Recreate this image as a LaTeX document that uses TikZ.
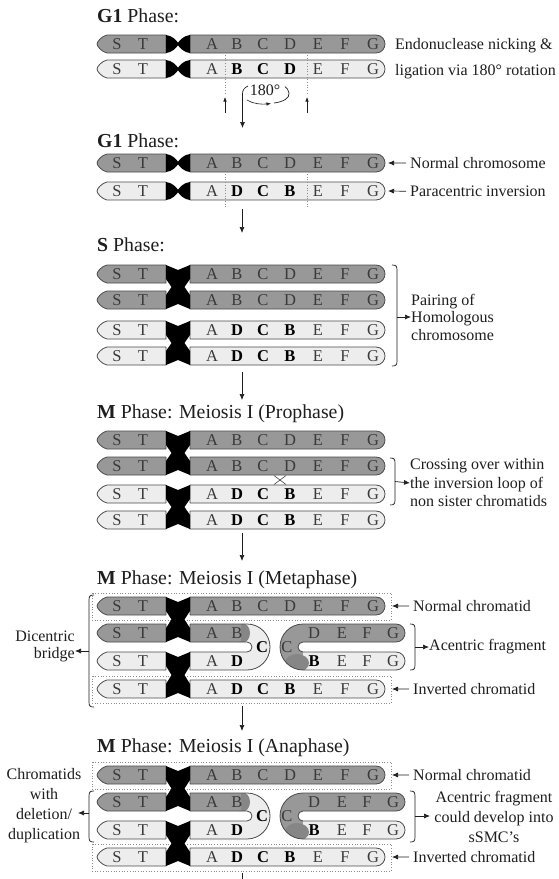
\documentclass[tikz,border=0pt]{standalone}
\usepackage{fontspec}
\setmainfont{Liberation Serif}
\usetikzlibrary{arrows.meta}

\definecolor{chrdark}{HTML}{989898}
\definecolor{chrlight}{HTML}{EDEDED}
\definecolor{chrline}{HTML}{4A4A4A}
\definecolor{genegray}{HTML}{3A3A3A}
\definecolor{blobgray}{HTML}{868686}
\definecolor{inkk}{HTML}{1E1E1E}

\tikzset{
  arm/.style={draw=chrline, line width=0.8pt, line join=round},
  darkarm/.style={arm, fill=chrdark},
  lightarm/.style={arm, fill=chrlight},
  gene/.style={font=\fontsize{16.5}{18}\selectfont, text=genegray, inner sep=0pt, anchor=base},
  title/.style={font=\fontsize{19.8}{22}\selectfont, text=inkk, inner sep=0pt, anchor=base west},
  lbl/.style={font=\fontsize{16}{18}\selectfont, text=inkk, inner sep=0pt},
  arr/.style={draw=inkk, line width=0.7pt, -{Latex[length=6pt,width=5pt]}},
  smallarr/.style={draw=inkk, line width=0.6pt, -{Latex[length=4.5pt,width=3.5pt]}},
  guide/.style={draw=black!45, line width=0.7pt, dotted},
  dotbox/.style={draw=black!45, line width=0.7pt, dotted},
  brk/.style={draw=inkk, line width=0.7pt},
  xover/.style={draw=chrline, line width=0.6pt},
}

% gene letters
\newcommand{\boldgene}[1]{\textbf{\color{black}#1}}
\newcommand{\genes}[2]{\foreach \gx/\gl in {#2}{\node[gene] (g#1x\gx) at (\gx,#1+5.8) {\gl};}}
\newcommand{\nrow}[1]{\genes{#1}{117/S,143/T,212/A,237/B,263/C,290/D,318/E,345/F,373/G}}
\newcommand{\irow}[1]{\genes{#1}{117/S,143/T,212/A,237/\boldgene{D},263/\boldgene{C},290/\boldgene{B},318/E,345/F,373/G}}

% chromosome arms
\newcommand{\leftarm}[2]{\path[#2] (166,#1-9) -- (107,#1-9) .. controls (102,#1-8) and (97,#1-2.5) .. (97,#1) .. controls (97,#1+2.5) and (102,#1+8) .. (107,#1+9) -- (166,#1+9) -- cycle;}
\newcommand{\rightarm}[3]{\path[#3] (190,#1-9) -- (#2-9,#1-9) .. controls (#2-3,#1-9) and (#2,#1-4) .. (#2,#1) .. controls (#2,#1+4) and (#2-3,#1+9) .. (#2-9,#1+9) -- (190,#1+9) -- cycle;}
\newcommand{\chromo}[2]{\leftarm{#1}{#2}\rightarm{#1}{385}{#2}}

% centromeres
\newcommand{\censingle}[1]{\fill[black] (166,#1-9) .. controls (172,#1-8.5) and (176,#1-4) .. (178,#1-1.3) .. controls (180,#1-4) and (184,#1-8.5) .. (190,#1-9) -- (190,#1+9) .. controls (184,#1+8.5) and (180,#1+4) .. (178,#1+1.3) .. controls (176,#1+4) and (172,#1+8.5) .. (166,#1+9) -- cycle;}
\newcommand{\cenpair}[2]{\fill[black] (166,#1-9) -- (178,#1-4) -- (190,#1-9) -- (190,#1+5) -- (184.5,{(#1+#2)/2}) -- (190,#2-5) -- (190,#2+9) -- (178,#2+4) -- (166,#2+9) -- (166,#2-5) -- (171.5,{(#1+#2)/2}) -- (166,#1+5) -- cycle;}

% brackets
\newcommand{\rbrk}[3]{\draw[brk] (#1-5,#2) .. controls (#1-1,#2) and (#1,#2+1) .. (#1,#2+5) -- (#1,#3-5) .. controls (#1,#3-1) and (#1-1,#3) .. (#1-5,#3);}
\newcommand{\lbrk}[3]{\draw[brk] (#1+5,#2) .. controls (#1+1,#2) and (#1,#2+1) .. (#1,#2+5) -- (#1,#3-5) .. controls (#1,#3-1) and (#1+1,#3) .. (#1+5,#3);}

% dicentric bridge (right part), rows #1 and #2, bend centre #3
\newcommand{\dicU}[3]{%
 \def\upath{(190,#1-9) -- (247,#1-9) .. controls (259.7,#1-9) and (270,#3-12.7) .. (270,#3) .. controls (270,#3+12.7) and (259.7,#2+9) .. (247,#2+9) -- (190,#2+9) -- (190,#2-9) -- (247,#2-9) .. controls (249.8,#2-9) and (252,#3+2.8) .. (252,#3) .. controls (252,#3-2.8) and (249.8,#1+9) .. (247,#1+9) -- (190,#1+9) -- cycle}%
 \fill[chrlight] \upath;
 \begin{scope}
  \clip \upath;
  \fill[blobgray] (242,#1) ellipse [x radius=8, y radius=10];
  \fill[chrdark] (185,#1-12) rectangle (241,#1+12);
 \end{scope}
 \draw[arm] \upath;
}

% acentric fragment, rows #1 and #2, bend centre #3
\newcommand{\frag}[3]{%
 \def\fpath{(396,#1-9) -- (303,#1-9) .. controls (290.3,#1-9) and (280,#3-12.7) .. (280,#3) .. controls (280,#3+12.7) and (290.3,#2+9) .. (303,#2+9) -- (396,#2+9) .. controls (402,#2+9) and (405,#2+4) .. (405,#2) .. controls (405,#2-4) and (402,#2-9) .. (396,#2-9) -- (303,#2-9) .. controls (300.2,#2-9) and (298,#3+2.8) .. (298,#3) .. controls (298,#3-2.8) and (300.2,#1+9) .. (303,#1+9) -- (396,#1+9) .. controls (402,#1+9) and (405,#1+4) .. (405,#1) .. controls (405,#1-4) and (402,#1-9) .. (396,#1-9) -- cycle}%
 \fill[chrlight] \fpath;
 \begin{scope}
  \clip \fpath;
  \fill[chrdark] (270,#1-12) rectangle (412,#3);
  \fill[chrdark] (270,#3) rectangle (303,#2+12);
  \fill[blobgray] (297,#2+2) ellipse [x radius=12, y radius=9];
 \end{scope}
 \draw[arm] \fpath;
}

\begin{document}
\begin{tikzpicture}[x=1pt,y=-1pt]
\useasboundingbox (0,0) rectangle (558,879);
\fill[white] (0,0) rectangle (558,879);

%% ---------- G1 phase: nicking and rotation ----------
\node[title] (t1) at (97,22.5) {\textbf{G1} Phase:};
\chromo{44}{darkarm}\censingle{44}\nrow{44}
\chromo{69}{lightarm}\censingle{69}
\genes{69}{117/S,143/T,212/A,237/\boldgene{B},263/\boldgene{C},290/\boldgene{D},318/E,345/F,373/G}
\coordinate (n1a) at (225,55); \coordinate (n1b) at (225,93);
\coordinate (n2a) at (307,55); \coordinate (n2b) at (307,93);
\draw[guide] (n1a) -- (n1b);
\draw[guide] (n2a) -- (n2b);
\coordinate (u1a) at (225,113); \coordinate (u1b) at (225,97);
\coordinate (u2a) at (307,113); \coordinate (u2b) at (307,97);
\draw[smallarr] (u1a) -- (u1b);
\draw[smallarr] (u2a) -- (u2b);
\node[lbl] (rot) at (265,90) {180°};
\coordinate (rl) at (248,86); \coordinate (a1s) at (242.5,94); \coordinate (a1e) at (242.5,128);
\draw[inkk, line width=0.7pt] (rl) .. controls (244,88) and (242.5,90) .. (a1s);
\draw[arr] (a1s) -- (a1e);
\coordinate (rb1) at (247,100); \coordinate (rb2) at (271,103.5);
\draw[smallarr] (rb1) .. controls (253,104) and (262,104.5) .. (rb2);
\coordinate (rr1) at (274,103); \coordinate (rr2) at (285,86.5);
\draw[inkk, line width=0.7pt] (rr1) .. controls (283,102) and (290,98) .. (289,93) .. controls (288.5,90) and (287,88) .. (rr2);
\node[lbl, anchor=base west] (lEndo) at (395,49.5) {Endonuclease nicking \&};
\node[lbl, anchor=base west] (lLig) at (395,75) {ligation via 180° rotation};

%% ---------- G1 phase: result ----------
\node[title] (t2) at (97,147) {\textbf{G1} Phase:};
\chromo{163}{darkarm}\censingle{163}\nrow{163}
\chromo{191}{lightarm}\censingle{191}\irow{191}
\coordinate (n3a) at (225,174); \coordinate (n3b) at (225,208);
\coordinate (n4a) at (307,174); \coordinate (n4b) at (307,208);
\draw[guide] (n3a) -- (n3b);
\draw[guide] (n4a) -- (n4b);
\node[lbl, anchor=base west] (lNorm) at (410,168.5) {Normal chromosome};
\node[lbl, anchor=base west] (lPara) at (410,196.5) {Paracentric inversion};
\coordinate (tNorm) at (388,163); \coordinate (tPara) at (388,191);
\draw[arr, shorten <=4pt] (lNorm.west) -- (tNorm);
\draw[arr, shorten <=4pt] (lPara.west) -- (tPara);
\coordinate (a2s) at (242,209); \coordinate (a2e) at (242,233);
\draw[arr] (a2s) -- (a2e);

%% ---------- S phase ----------
\node[title] (t3) at (97,251) {\textbf{S} Phase:};
\chromo{274}{darkarm}\chromo{300}{darkarm}\cenpair{274}{300}
\nrow{274}\nrow{300}
\chromo{330}{lightarm}\chromo{356}{lightarm}\cenpair{330}{356}
\irow{330}\irow{356}
\rbrk{397}{265}{366}
\coordinate (bS) at (397,317);
\node[lbl, anchor=west, align=left, font=\fontsize{16}{17.5}\selectfont] (lPair) at (411,317) {Pairing of\\Homologous\\chromosome};
\draw[arr] (bS) -- (lPair.west);
\coordinate (a3s) at (242,372); \coordinate (a3e) at (242,400);
\draw[arr] (a3s) -- (a3e);

%% ---------- M phase: prophase ----------
\node[title] (t4) at (97,418) {\textbf{M} Phase: Meiosis I (Prophase)};
\chromo{440}{darkarm}\chromo{466}{darkarm}\cenpair{440}{466}
\nrow{440}\nrow{466}
\chromo{494}{lightarm}\chromo{520}{lightarm}\cenpair{494}{520}
\irow{494}\irow{520}
\coordinate (x1) at (274,475.5); \coordinate (x2) at (286,484.5);
\coordinate (x3) at (286,475.5); \coordinate (x4) at (274,484.5);
\draw[xover] (x1) -- (x2);
\draw[xover] (x3) -- (x4);
\rbrk{395}{458}{505}
\coordinate (bP) at (395,481.5);
\node[lbl, anchor=west, align=left, font=\fontsize{16}{18.5}\selectfont] (lCross) at (410,483) {Crossing over within\\the inversion loop of\\non sister chromatids};
\draw[arr] (bP) -- (lCross.west);
\coordinate (a4s) at (242,533); \coordinate (a4e) at (242,561);
\draw[arr] (a4s) -- (a4e);

%% ---------- M phase: metaphase ----------
\node[title] (t5) at (97,584) {\textbf{M} Phase: Meiosis I (Metaphase)};
\draw[dotbox] (92,593) rectangle (391,620);
\draw[dotbox] (92,676) rectangle (391,703);
\chromo{606}{darkarm}
\leftarm{633}{darkarm}\leftarm{661}{lightarm}
\dicU{633}{661}{647}
\frag{633}{661}{647}
\chromo{689}{lightarm}
\cenpair{606}{633}\cenpair{661}{689}
\nrow{606}\irow{689}
\genes{633}{117/S,143/T,212/A,237/B}
\genes{661}{117/S,143/T,212/A,237/\boldgene{D}}
\node[gene] (cM1) at (262,652.8) {\boldgene{C}};
\node[gene] (cM2) at (287,652.8) {C};
\genes{633}{314/D,342/E,367/F,393/G}
\genes{661}{314/\boldgene{B},342/E,367/F,393/G}
\node[lbl, anchor=base west] (lNc1) at (413,611.5) {Normal chromatid};
\node[lbl, anchor=base west] (lIc1) at (413,694.5) {Inverted chromatid};
\coordinate (tNc1) at (392,606); \coordinate (tIc1) at (392,689);
\draw[arr, shorten <=4pt] (lNc1.west) -- (tNc1);
\draw[arr, shorten <=4pt] (lIc1.west) -- (tIc1);
\rbrk{415}{624}{670}
\coordinate (bAf1) at (415,647);
\node[lbl, anchor=west] (lAf1) at (429,647) {Acentric fragment};
\draw[arr] (bAf1) -- (lAf1.west);
\lbrk{89}{595}{707}
\coordinate (bDb) at (89,651);
\node[lbl, anchor=east, align=right, font=\fontsize{16}{17}\selectfont] (lDb) at (75,646) {Dicentric\\bridge};
\draw[arr] (bDb) -- (lDb.east |- bDb);
\coordinate (a5s) at (242,706); \coordinate (a5e) at (242,731);
\draw[arr] (a5s) -- (a5e);

%% ---------- M phase: anaphase ----------
\node[title] (t6) at (97,752) {\textbf{M} Phase: Meiosis I (Anaphase)};
\draw[dotbox] (92,762) rectangle (391,789);
\draw[dotbox] (92,844) rectangle (391,871);
\chromo{775}{darkarm}
\leftarm{802}{darkarm}\leftarm{830}{lightarm}
\dicU{802}{830}{816}
\frag{802}{830}{816}
\chromo{857}{lightarm}
\cenpair{775}{802}\cenpair{830}{857}
\nrow{775}\irow{857}
\genes{802}{117/S,143/T,212/A,237/B}
\genes{830}{117/S,143/T,212/A,237/\boldgene{D}}
\node[gene] (cA1) at (262,821.8) {\boldgene{C}};
\node[gene] (cA2) at (287,821.8) {C};
\genes{802}{314/D,342/E,367/F,393/G}
\genes{830}{314/\boldgene{B},342/E,367/F,393/G}
\node[lbl, anchor=base west] (lNc2) at (413,780.5) {Normal chromatid};
\node[lbl, anchor=base west] (lIc2) at (413,862.5) {Inverted chromatid};
\coordinate (tNc2) at (392,775); \coordinate (tIc2) at (392,857);
\draw[arr, shorten <=4pt] (lNc2.west) -- (tNc2);
\draw[arr, shorten <=4pt] (lIc2.west) -- (tIc2);
\rbrk{415}{791}{842}
\coordinate (bAf2) at (415,816);
\node[lbl, align=center, font=\fontsize{16}{20}\selectfont] (lAf2) at (494,817) {Acentric fragment\\could develop into\\sSMC's};
\coordinate (tAf2) at (430,816);
\draw[arr] (bAf2) -- (tAf2);
\lbrk{89}{791}{842}
\coordinate (bCd) at (89,813);
\node[lbl, align=center, font=\fontsize{16}{20}\selectfont] (lCd) at (44,806) {Chromatids\\with\\deletion/\\duplication};
\coordinate (tCd) at (78,813);
\draw[arr] (bCd) -- (tCd);
\coordinate (a6s) at (242,873); \coordinate (a6e) at (242,879);
\draw[inkk, line width=0.7pt] (a6s) -- (a6e);
\end{tikzpicture}
\end{document}
